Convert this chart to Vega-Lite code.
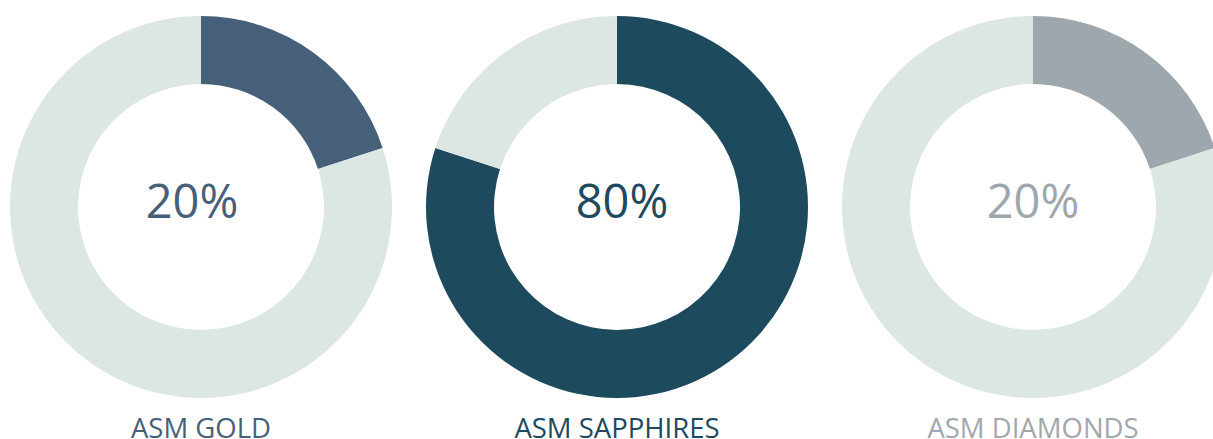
{
  "$schema": "https://vega.github.io/schema/vega-lite/v6.json",
  "padding": {"left": 10, "top": 16, "right": 0, "bottom": 0},
  "background": "white",
  "config": {"view": {"stroke": null}, "font": "Open Sans"},
  "spacing": 34,
  "datasets": {
    "shares": [
      {"name": "ASM GOLD", "part": "gold", "order": 1, "share": 0.2},
      {"name": "ASM GOLD", "part": "rest", "order": 2, "share": 0.8},
      {"name": "ASM SAPPHIRES", "part": "sapphires", "order": 1, "share": 0.8},
      {"name": "ASM SAPPHIRES", "part": "rest", "order": 2, "share": 0.2},
      {"name": "ASM DIAMONDS", "part": "diamonds", "order": 1, "share": 0.2},
      {"name": "ASM DIAMONDS", "part": "rest", "order": 2, "share": 0.8}
    ]
  },
  "data": {"name": "shares"},
  "hconcat": [
    {
      "width": 382, "height": 382,
      "title": {"text": "ASM GOLD", "orient": "bottom", "anchor": "middle", "color": "#46607a", "fontSize": 27.5, "font": "Open Sans", "fontWeight": "normal", "offset": 18},
      "transform": [{"filter": "datum.name === 'ASM GOLD'"}],
      "layer": [
        {
          "mark": {"type": "arc", "innerRadius": 123, "outerRadius": 191},
          "encoding": {
            "theta": {"field": "share", "type": "quantitative", "stack": true},
            "order": {"field": "order", "type": "quantitative"},
            "color": {"field": "part", "type": "nominal", "legend": null,
              "scale": {"domain": ["gold", "sapphires", "diamonds", "rest"], "range": ["#46607a", "#1e4a5e", "#9fa7ae", "#dce6e3"]}}
          }
        },
        {
          "transform": [{"filter": "datum.order === 1"}],
          "mark": {"type": "text", "fontSize": 47, "font": "Open Sans", "baseline": "middle", "align": "center", "dy": -3, "dx": -9},
          "encoding": {
            "text": {"field": "share", "type": "quantitative", "format": ".0%"},
            "color": {"field": "part", "type": "nominal", "legend": null}
          }
        }
      ]
    },
    {
      "width": 382, "height": 382,
      "title": {"text": "ASM SAPPHIRES", "orient": "bottom", "anchor": "middle", "color": "#1e4a5e", "fontSize": 27.5, "font": "Open Sans", "fontWeight": "normal", "offset": 18},
      "transform": [{"filter": "datum.name === 'ASM SAPPHIRES'"}],
      "layer": [
        {
          "mark": {"type": "arc", "innerRadius": 123, "outerRadius": 191},
          "encoding": {
            "theta": {"field": "share", "type": "quantitative", "stack": true},
            "order": {"field": "order", "type": "quantitative"},
            "color": {"field": "part", "type": "nominal", "legend": null}
          }
        },
        {
          "transform": [{"filter": "datum.order === 1"}],
          "mark": {"type": "text", "fontSize": 47, "font": "Open Sans", "baseline": "middle", "align": "center", "dy": -3, "dx": 5},
          "encoding": {
            "text": {"field": "share", "type": "quantitative", "format": ".0%"},
            "color": {"field": "part", "type": "nominal", "legend": null}
          }
        }
      ]
    },
    {
      "width": 382, "height": 382,
      "title": {"text": "ASM DIAMONDS", "orient": "bottom", "anchor": "middle", "color": "#a0a8af", "fontSize": 27.5, "font": "Open Sans", "fontWeight": "normal", "offset": 18},
      "transform": [{"filter": "datum.name === 'ASM DIAMONDS'"}],
      "layer": [
        {
          "mark": {"type": "arc", "innerRadius": 123, "outerRadius": 191},
          "encoding": {
            "theta": {"field": "share", "type": "quantitative", "stack": true},
            "order": {"field": "order", "type": "quantitative"},
            "color": {"field": "part", "type": "nominal", "legend": null}
          }
        },
        {
          "transform": [{"filter": "datum.order === 1"}],
          "mark": {"type": "text", "fontSize": 47, "font": "Open Sans", "baseline": "middle", "align": "center", "dy": -3, "dx": 0},
          "encoding": {
            "text": {"field": "share", "type": "quantitative", "format": ".0%"},
            "color": {"field": "part", "type": "nominal", "legend": null}
          }
        }
      ]
    }
  ]
}
